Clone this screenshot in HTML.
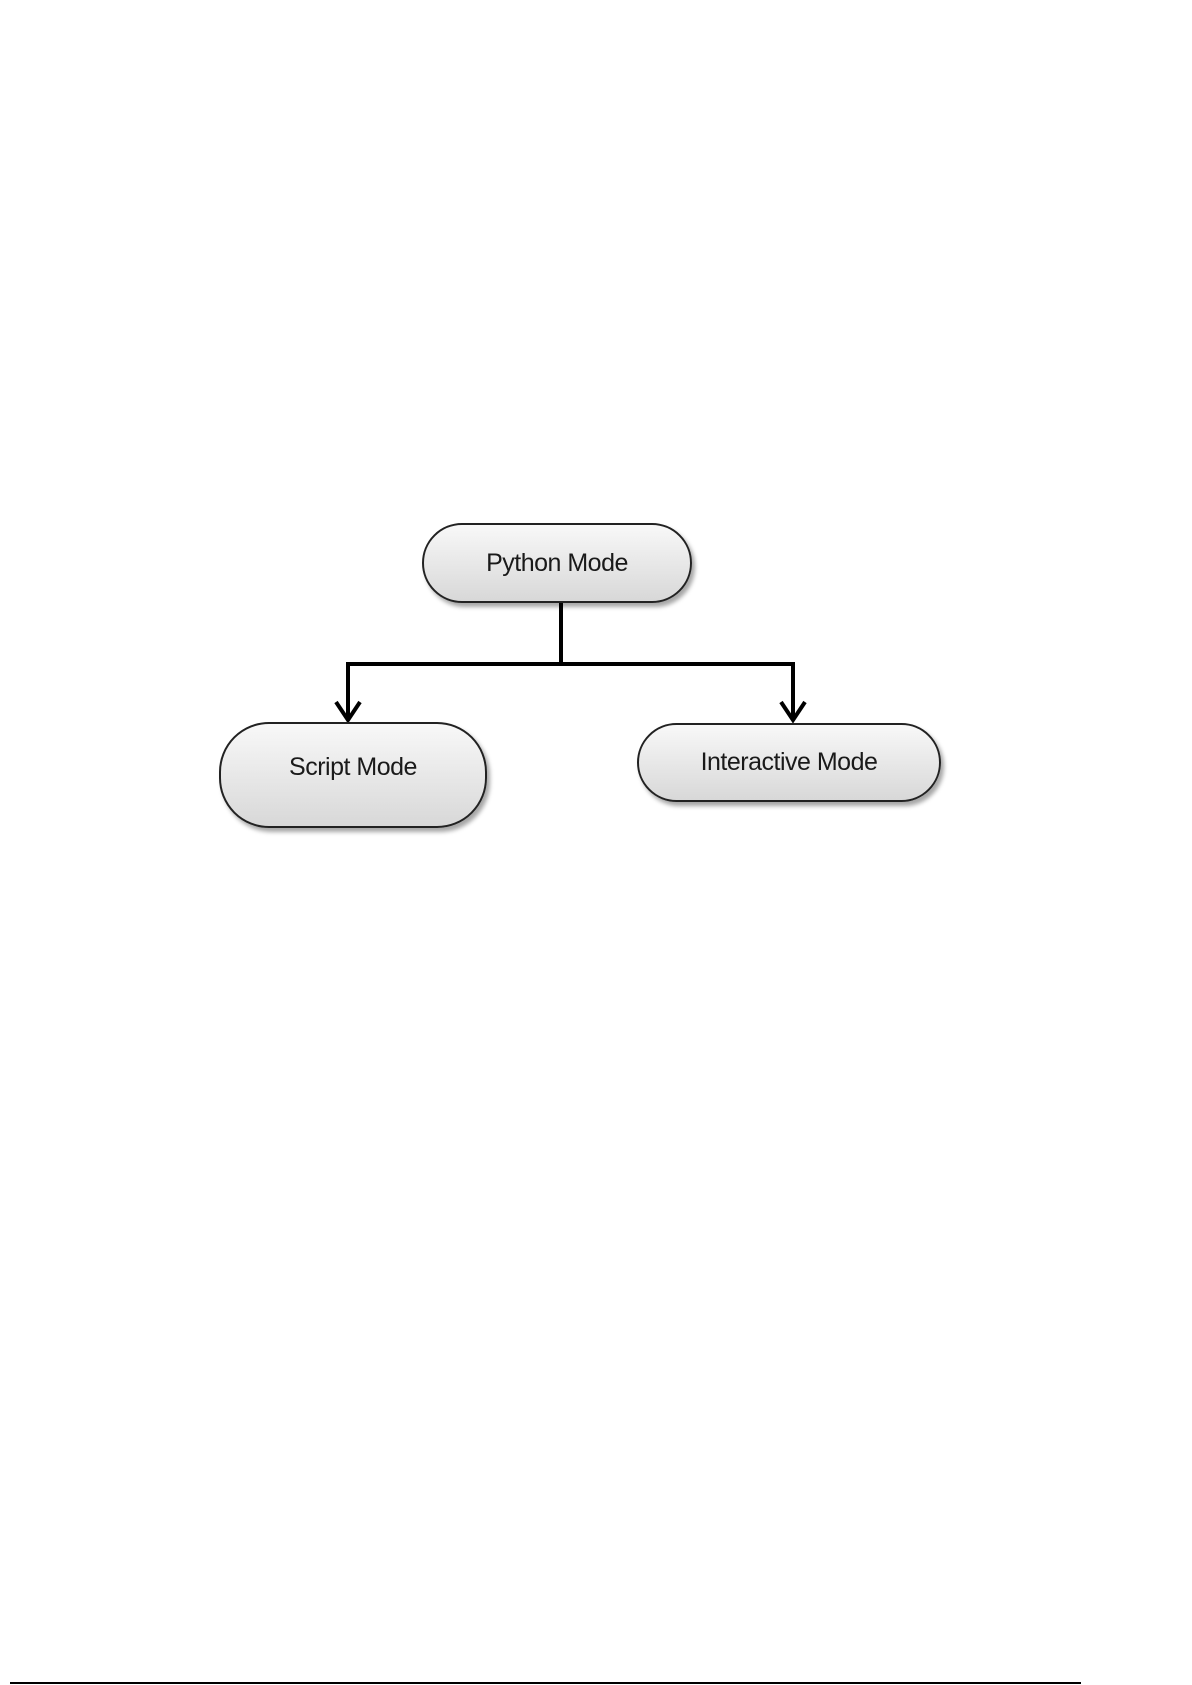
<!DOCTYPE html>
<html><head><style>
body{margin:0;width:1192px;height:1685px;background:#fff;position:relative;overflow:hidden;font-family:"Liberation Sans",sans-serif}
.n{position:absolute;box-sizing:border-box;border:2px solid #222;border-radius:40px;background:linear-gradient(#f8f8f8,#d8d8d8);box-shadow:3px 4px 4px rgba(0,0,0,0.35);display:flex;align-items:center;justify-content:center;font-size:25px;color:#1a1a1a;letter-spacing:-0.5px}
</style></head><body>
<svg width="1192" height="1685" style="position:absolute;left:0;top:0">
<g stroke="#000" stroke-width="4" fill="none">
<path d="M561 603 V664 M348 664 H793 M348 662 V718 M793 662 V718"/>
<path d="M336 702 L348 720 L360 702 M781 702 L793 720 L805 702"/>
</g>
<line x1="10" y1="1683" x2="1081" y2="1683" stroke="#000" stroke-width="2"/>
</svg>
<div class="n" style="left:422px;top:523px;width:270px;height:80px">Python Mode</div>
<div class="n" style="left:219px;top:722px;width:268px;height:106px;border-radius:50px;padding-bottom:16px">Script Mode</div>
<div class="n" style="left:637px;top:723px;width:304px;height:79px">Interactive Mode</div>
</body></html>
